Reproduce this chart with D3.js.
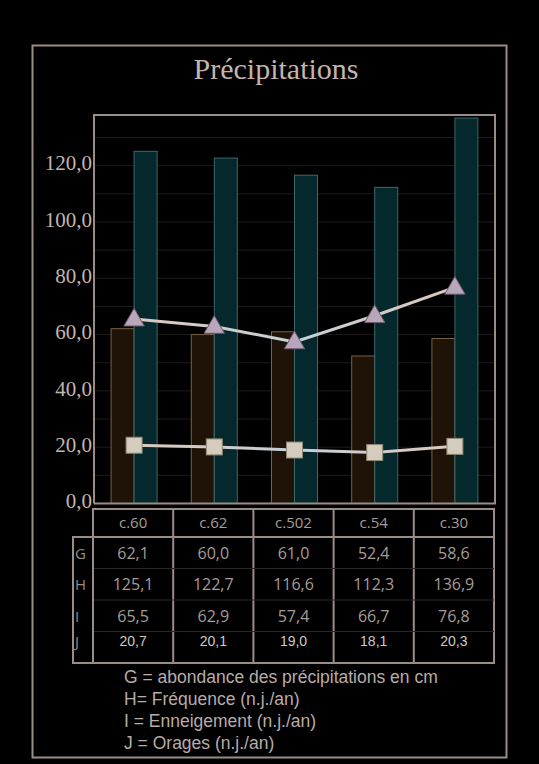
<!DOCTYPE html>
<meta charset="utf-8">
<style>
  body { margin: 0; background: #000; }
  svg { display: block; }
  .tick text { font-family: "Liberation Serif", "DejaVu Serif", serif; }
</style>
<svg width="539" height="764"></svg>
<script src="https://cdn.jsdelivr.net/npm/d3@7/dist/d3.min.js"></script>
<script>

var stations = ["c.60", "c.62", "c.502", "c.54", "c.30"];
var rowKeys = ["G", "H", "I", "J"];
var abondance = [62.1, 60.0, 61.0, 52.4, 58.6];      // G
var frequence = [125.1, 122.7, 116.6, 112.3, 136.9]; // H
var enneigement = [65.5, 62.9, 57.4, 66.7, 76.8];    // I
var orages = [20.7, 20.1, 19.0, 18.1, 20.3];         // J
var yTicks = [0, 20, 40, 60, 80, 100, 120];
var legendLines = [
  "G = abondance des précipitations en cm",
  "H= Fréquence (n.j./an)",
  "I = Enneigement (n.j./an)",
  "J = Orages (n.j./an)"
];

var svg = d3.select("svg");
var frameCol = "#9a8c86";
var textCol = "#c4b4ac";

// outer frame
svg.append("rect")
  .attr("x", 32.5).attr("y", 45.5)
  .attr("width", 474).attr("height", 712)
  .attr("fill", "none").attr("stroke", frameCol).attr("stroke-width", 2);

svg.append("text")
  .attr("x", 276).attr("y", 79)
  .attr("text-anchor", "middle")
  .attr("font-family", "Liberation Serif, DejaVu Serif, serif")
  .attr("font-size", 30)
  .attr("fill", textCol)
  .text("Précipitations");

var pLeft = 94, pRight = 495, pTop = 115, pBottom = 503.5;

var x = d3.scaleBand().domain(stations).range([pLeft, pRight]);
var y = d3.scaleLinear().domain([0, 138]).range([pBottom, pTop]);

// grid every 10
svg.append("g").selectAll("line")
  .data(d3.range(10, 138, 10))
  .enter().append("line")
  .attr("x1", pLeft).attr("x2", pRight)
  .attr("y1", function(d) { return y(d); })
  .attr("y2", function(d) { return y(d); })
  .attr("stroke", "#1e1a1a").attr("stroke-width", 1);

// bars
var bw = 23;
svg.append("g").selectAll("rect")
  .data(abondance)
  .enter().append("rect")
  .attr("x", function(d, i) { return x(stations[i]) + x.bandwidth() / 2 - bw; })
  .attr("y", function(d) { return y(d); })
  .attr("width", bw)
  .attr("height", function(d) { return pBottom - y(d); })
  .attr("fill", "#1f1307").attr("stroke", "#7a6145").attr("stroke-width", 1);

svg.append("g").selectAll("rect")
  .data(frequence)
  .enter().append("rect")
  .attr("x", function(d, i) { return x(stations[i]) + x.bandwidth() / 2; })
  .attr("y", function(d) { return y(d); })
  .attr("width", bw)
  .attr("height", function(d) { return pBottom - y(d); })
  .attr("fill", "#04282c").attr("stroke", "#3d6a6c").attr("stroke-width", 1);

// plot frame
svg.append("path")
  .attr("d", "M" + pLeft + "," + pBottom + "V" + pTop + "H" + pRight + "V" + pBottom + "H" + pLeft)
  .attr("fill", "none").attr("stroke", frameCol).attr("stroke-width", 2);

// y axis labels
var yAxis = d3.axisLeft(y)
  .tickValues(yTicks)
  .tickSize(0)
  .tickPadding(1)
  .tickFormat(function(d) { return d3.format(".1f")(d).replace(".", ","); });
var ya = svg.append("g").attr("transform", "translate(" + (pLeft - 1) + ",0)").call(yAxis);
ya.select(".domain").remove();
ya.selectAll("text").attr("font-size", 21).attr("fill", textCol).attr("dy", "0.2em");

// lines
var cx = function(d, i) { return x(stations[i]) + x.bandwidth() / 2; };
var line = d3.line().x(cx).y(function(d) { return y(d); });
var grad = svg.append("defs").append("linearGradient")
  .attr("id", "lg").attr("x1", "0").attr("x2", "1");
grad.append("stop").attr("offset", "0").attr("stop-color", "#dcc8bc");
grad.append("stop").attr("offset", "0.5").attr("stop-color", "#c4d0d8");
grad.append("stop").attr("offset", "1").attr("stop-color", "#dcc8bc");

[enneigement, orages].forEach(function(s) {
  svg.append("path").datum(s)
    .attr("d", line)
    .attr("fill", "none").attr("stroke", "url(#lg)").attr("stroke-width", 3);
});

svg.append("g").selectAll("path")
  .data(enneigement)
  .enter().append("path")
  .attr("transform", function(d, i) { return "translate(" + cx(d, i) + "," + (y(d) + 1) + ")"; })
  .attr("d", d3.symbol().type(d3.symbolTriangle).size(180))
  .attr("fill", "#b9a6bb").attr("stroke", "#6e5a72").attr("stroke-width", 1);

svg.append("g").selectAll("rect")
  .data(orages)
  .enter().append("rect")
  .attr("x", function(d, i) { return cx(d, i) - 8; })
  .attr("y", function(d) { return y(d) - 8; })
  .attr("width", 16).attr("height", 16)
  .attr("fill", "#d4ccbc").attr("stroke", "#8f8676").attr("stroke-width", 1);

// data table
var tTop = 509, hdrH = 28, rowH = 31.5, labW = 20;
var tbl = svg.append("g");
var series = [abondance, frequence, enneigement, orages];
var tBottom = tTop + hdrH + rowH * 4;

tbl.append("rect")
  .attr("x", pLeft - 1).attr("y", tTop)
  .attr("width", pRight - pLeft).attr("height", hdrH)
  .attr("fill", "none").attr("stroke", frameCol).attr("stroke-width", 2);
tbl.append("rect")
  .attr("x", pLeft - 1 - labW).attr("y", tTop + hdrH)
  .attr("width", pRight - pLeft + labW).attr("height", rowH * 4)
  .attr("fill", "none").attr("stroke", frameCol).attr("stroke-width", 2);
tbl.append("line")
  .attr("x1", pLeft - 1).attr("x2", pLeft - 1)
  .attr("y1", tTop + hdrH).attr("y2", tBottom)
  .attr("stroke", frameCol).attr("stroke-width", 2);

tbl.selectAll(".vl")
  .data(stations.slice(1))
  .enter().append("line")
  .attr("x1", function(d) { return x(d) - 1; })
  .attr("x2", function(d) { return x(d) - 1; })
  .attr("y1", tTop).attr("y2", tBottom)
  .attr("stroke", frameCol).attr("stroke-width", 2);

tbl.selectAll(".hl")
  .data([1, 2, 3])
  .enter().append("line")
  .attr("x1", pLeft).attr("x2", pRight - 1)
  .attr("y1", function(d) { return tTop + hdrH + rowH * d; })
  .attr("y2", function(d) { return tTop + hdrH + rowH * d; })
  .attr("stroke", "#2a2626").attr("stroke-width", 1);

tbl.selectAll(".hd")
  .data(stations)
  .enter().append("text")
  .attr("x", function(d) { return x(d) + x.bandwidth() / 2 - 1; })
  .attr("y", tTop + hdrH / 2 + 5)
  .attr("text-anchor", "middle")
  .attr("font-family", "Open Sans, DejaVu Sans, sans-serif")
  .attr("font-size", 15)
  .attr("fill", "#a89c96")
  .text(function(d) { return d; });

rowKeys.forEach(function(k, r) {
  var ry = tTop + hdrH + rowH * r;
  var last = r === 3;
  tbl.append("text")
    .attr("x", pLeft - labW + 1).attr("y", ry + (last ? 15 : rowH / 2 + 6))
    .attr("font-family", "Open Sans, DejaVu Sans, sans-serif")
    .attr("font-size", 15)
    .attr("fill", "#968a84")
    .text(k);
  tbl.selectAll(".v" + k)
    .data(series[r])
    .enter().append("text")
    .attr("x", function(d, i) { return x(stations[i]) + x.bandwidth() / 2 - 1; })
    .attr("y", ry + (last ? 14 : rowH / 2 + 6))
    .attr("text-anchor", "middle")
    .attr("font-family", last ? "Liberation Sans, Arial, sans-serif" : "Open Sans, DejaVu Sans, sans-serif")
    .attr("font-size", last ? 14 : 16)
    .attr("fill", last ? "#d0c8c2" : "#a89c96")
    .text(function(d) { return d3.format(".1f")(d).replace(".", ","); });
});

// legend
svg.append("g").selectAll("text")
  .data(legendLines)
  .enter().append("text")
  .attr("x", 124)
  .attr("y", function(d, i) { return 683 + i * 22; })
  .attr("font-family", "Liberation Sans, Arial, sans-serif")
  .attr("font-size", 17.5)
  .attr("fill", "#b8aca8")
  .text(function(d) { return d; });

</script>
